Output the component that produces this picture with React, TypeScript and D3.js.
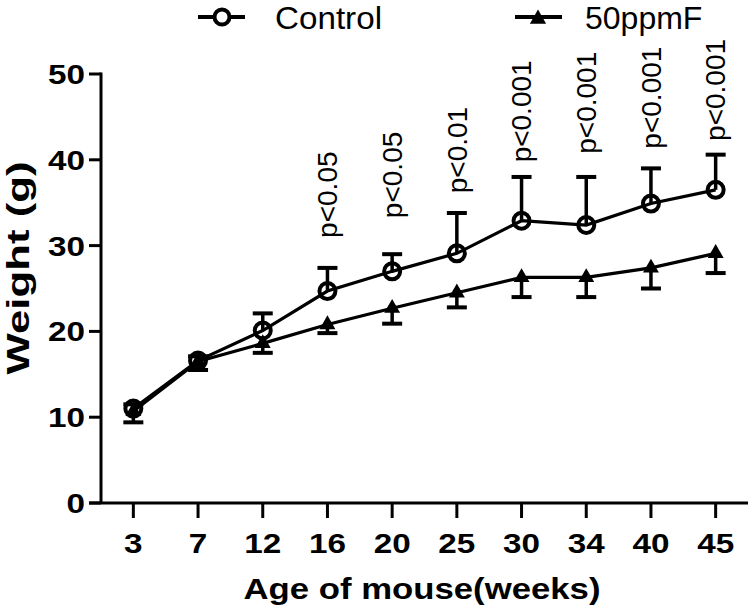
import React, { useEffect } from "react";
import * as d3 from "d3";

const categories = ["3", "7", "12", "16", "20", "25", "30", "34", "40", "45"];
const controlMean = [11.0, 16.6, 20.1, 24.7, 27.0, 29.1, 32.9, 32.4, 34.9, 36.5];
const controlSD = [0.5, 0.5, 2.0, 2.7, 2.0, 4.7, 5.1, 5.6, 4.1, 4.1];
const fluorideMean = [10.7, 16.5, 18.6, 20.8, 22.7, 24.5, 26.3, 26.3, 27.4, 29.1];
const fluorideSD = [1.3, 1.0, 1.1, 1.0, 1.8, 1.7, 2.3, 2.3, 2.4, 2.3];
const yTicks = [0, 10, 20, 30, 40, 50];
const pCats = ["16", "20", "25", "30", "34", "40", "45"];
const pLabels = ["p<0.05", "p<0.05", "p<0.01", "p<0.001", "p<0.001", "p<0.001", "p<0.001"];
const pLabelY = [30.9, 33.2, 36.1, 39.7, 40.7, 41.3, 42.2];
const seriesNames = ["Control", "50ppmF"];

const W = 750;
const H = 609;
const FONT = "'Liberation Sans', Arial, sans-serif";

export default function App() {
  useEffect(() => {
    document.body.style.margin = "0";
  }, []);

  const x = d3.scalePoint<string>().domain(categories).range([101, 748]).padding(0.5);
  const y = d3.scaleLinear().domain([0, 50]).range([503, 74]);
  const line = d3
    .line<number>()
    .x((_, i) => x(categories[i]) as number)
    .y((d) => y(d));
  const tri = d3.symbol().type(d3.symbolTriangle).size(110)() as string;
  const triLegend = d3.symbol().type(d3.symbolTriangle).size(115)() as string;
  const capW = 10;

  return (
    <svg width={W} height={H} style={{ position: "absolute", left: 0, top: 0, background: "#fff" }} fontFamily={FONT}>
      <rect width={W} height={H} fill="#fff" />
      {/* axes */}
      <line x1={101} x2={101} y1={y(50) - 1.5} y2={y(0)} stroke="#000" strokeWidth={3} />
      <line x1={89} x2={748} y1={y(0)} y2={y(0)} stroke="#000" strokeWidth={3} />
      {yTicks.map((t) => (
        <g key={"yt" + t}>
          <line x1={89} x2={101} y1={y(t)} y2={y(t)} stroke="#000" strokeWidth={3} />
          <text
            x={85}
            y={y(t)}
            dy="0.36em"
            textAnchor="end"
            fontWeight="bold"
            fontSize={28}
            textLength={String(t).length * 18.5}
            lengthAdjust="spacingAndGlyphs"
          >
            {t}
          </text>
        </g>
      ))}
      {categories.map((c) => (
        <g key={"xt" + c}>
          <line x1={x(c)} x2={x(c)} y1={y(0)} y2={y(0) + 15} stroke="#000" strokeWidth={3} />
          <text
            x={x(c)}
            y={553}
            textAnchor="middle"
            fontWeight="bold"
            fontSize={28}
            textLength={c.length * 18.5}
            lengthAdjust="spacingAndGlyphs"
          >
            {c}
          </text>
        </g>
      ))}
      <text x={422} y={599} textAnchor="middle" fontWeight="bold" fontSize={30} textLength={357} lengthAdjust="spacingAndGlyphs">
        Age of mouse(weeks)
      </text>
      <text
        transform={`translate(29,268) rotate(-90)`}
        textAnchor="middle"
        fontWeight="bold"
        fontSize={32}
        textLength={213}
        lengthAdjust="spacingAndGlyphs"
      >
        Weight (g)
      </text>

      {/* series lines */}
      <path d={line(fluorideMean) as string} fill="none" stroke="#000" strokeWidth={3.2} />
      <path d={line(controlMean) as string} fill="none" stroke="#000" strokeWidth={3.2} />

      {/* error bars */}
      {categories.map((c, i) => {
        const cx = x(c) as number;
        const top = y(controlMean[i] + controlSD[i]);
        const bot = y(fluorideMean[i] - fluorideSD[i]);
        return (
          <g key={"eb" + c} stroke="#000">
            <line x1={cx} x2={cx} y1={y(controlMean[i])} y2={top} strokeWidth={3.5} />
            <line x1={cx - capW} x2={cx + capW} y1={top} y2={top} strokeWidth={4} />
            <line x1={cx} x2={cx} y1={y(fluorideMean[i])} y2={bot} strokeWidth={3.5} />
            <line x1={cx - capW} x2={cx + capW} y1={bot} y2={bot} strokeWidth={4} />
          </g>
        );
      })}

      {/* markers */}
      {categories.map((c, i) => (
        <path key={"tr" + c} d={tri} transform={`translate(${x(c)},${y(fluorideMean[i])})`} fill="#000" />
      ))}
      {categories.map((c, i) => (
        <circle key={"ci" + c} cx={x(c)} cy={y(controlMean[i])} r={8} fill="none" stroke="#000" strokeWidth={4} />
      ))}

      {/* p-value labels */}
      {pCats.map((c, i) => (
        <text
          key={"p" + c}
          transform={`translate(${x(c)},${y(pLabelY[i])}) rotate(-90)`}
          dy="0.35em"
          textAnchor="start"
          fontSize={28}
        >
          {pLabels[i]}
        </text>
      ))}

      {/* legend */}
      <line x1={198} x2={245} y1={17} y2={17} stroke="#000" strokeWidth={4} />
      <circle cx={222} cy={17} r={7.5} fill="#fff" stroke="#000" strokeWidth={4} />
      <text x={275} y={29} fontSize={32} textLength={107} lengthAdjust="spacingAndGlyphs">
        {seriesNames[0]}
      </text>
      <line x1={515} x2={562} y1={17} y2={17} stroke="#000" strokeWidth={4} />
      <path d={triLegend} transform="translate(538,19)" fill="#000" />
      <text x={585} y={29} fontSize={32}>
        {seriesNames[1]}
      </text>
    </svg>
  );
}
